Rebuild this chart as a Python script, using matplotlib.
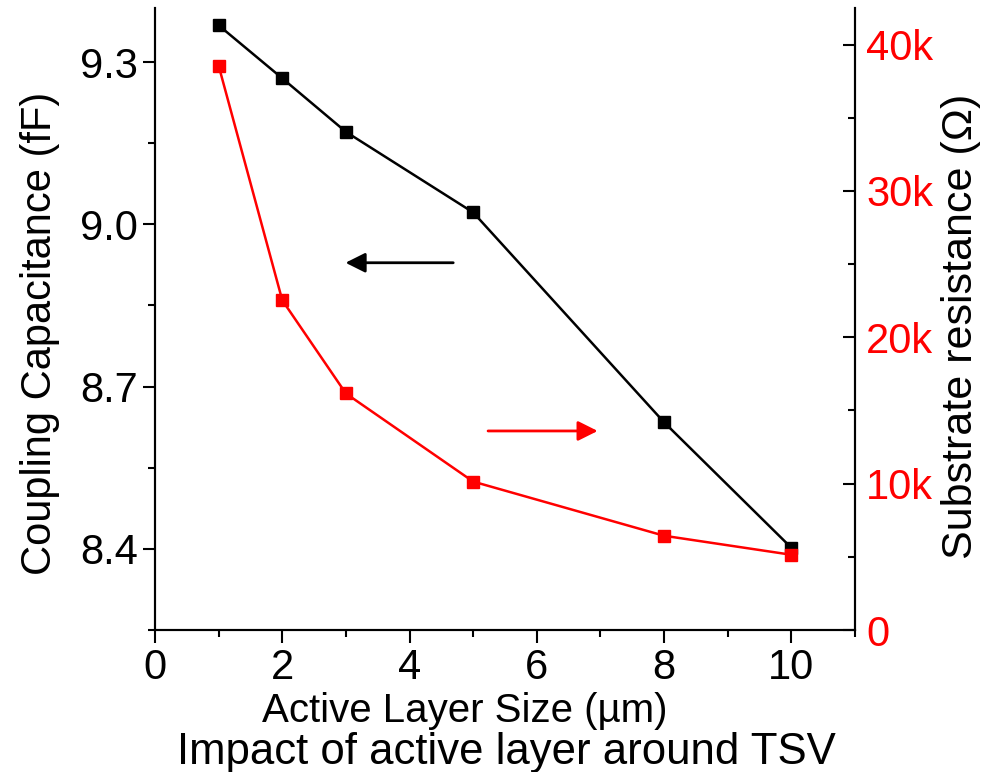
import matplotlib
matplotlib.use("Agg")
import matplotlib.pyplot as plt
from matplotlib.ticker import MultipleLocator, FuncFormatter

plt.rcParams['font.family'] = ['Liberation Sans', 'DejaVu Sans']

size_um = [1, 2, 3, 5, 8, 10]
capacitance_fF = [9.368, 9.270, 9.171, 9.022, 8.634, 8.402]
resistance_ohm = [38560, 22530, 16160, 10140, 6440, 5140]

W, H = 996, 772
fig = plt.figure(figsize=(W/100, H/100), dpi=100)
ax = fig.add_axes([155/W, 1-630/H, (855-155)/W, (630-8)/H])
ax2 = ax.twinx()

ax.plot(size_um, capacitance_fF, color='black', lw=1.8, marker='s', ms=8, zorder=3)
ax2.plot(size_um, resistance_ohm, color='red', lw=1.8, marker='s', ms=8, zorder=3)

ax.set_xlim(0, 11)
ax.set_ylim(8.25, 9.40)
ax2.set_ylim(0, 42500)

ax.xaxis.set_major_locator(MultipleLocator(2))
ax.xaxis.set_minor_locator(MultipleLocator(1))
ax.yaxis.set_major_locator(MultipleLocator(0.3))
ax.yaxis.set_minor_locator(MultipleLocator(0.15))
ax.yaxis.set_major_formatter(FuncFormatter(lambda v, p: f"{v:.1f}"))
ax2.yaxis.set_major_locator(MultipleLocator(10000))
ax2.yaxis.set_minor_locator(MultipleLocator(5000))
ax2.yaxis.set_major_formatter(FuncFormatter(lambda v, p: "0" if v == 0 else f"{int(v/1000)}k"))

for a in (ax, ax2):
    a.spines['top'].set_visible(False)
    for s in a.spines.values():
        s.set_linewidth(1.5)

ax.tick_params(axis='both', which='major', direction='out', length=9, width=1.5, labelsize=30)
ax.tick_params(axis='x', which='major', pad=4)
ax.tick_params(axis='both', which='minor', direction='out', length=5, width=1.5)
ax2.tick_params(axis='y', which='major', direction='in', length=9, width=1.5, labelsize=30, labelcolor='red', pad=8)
ax2.tick_params(axis='y', which='minor', direction='in', length=5, width=1.5)

fig.text(465/W, 1-722/H, "Active Layer Size (µm)", fontsize=29, ha='center', va='baseline')
fig.text(506/W, 1-764/H, "Impact of active layer around TSV", fontsize=31.5, ha='center', va='baseline')
fig.text(40/W, 1-333/H, "Coupling Capacitance (fF)", fontsize=30, rotation=90, ha='center', va='center')
fig.text(961/W, 1-326/H, "Substrate resistance (Ω)", fontsize=31, rotation=90, ha='center', va='center')

ax.annotate("", xy=(2.95, 8.929), xytext=(4.73, 8.929),
            arrowprops=dict(arrowstyle='-|>', color='black', lw=2, mutation_scale=30))
ax2.annotate("", xy=(7.0, 13600), xytext=(5.19, 13600),
             arrowprops=dict(arrowstyle='-|>', color='red', lw=2, mutation_scale=30))

fig.savefig("out.png", dpi=100)
